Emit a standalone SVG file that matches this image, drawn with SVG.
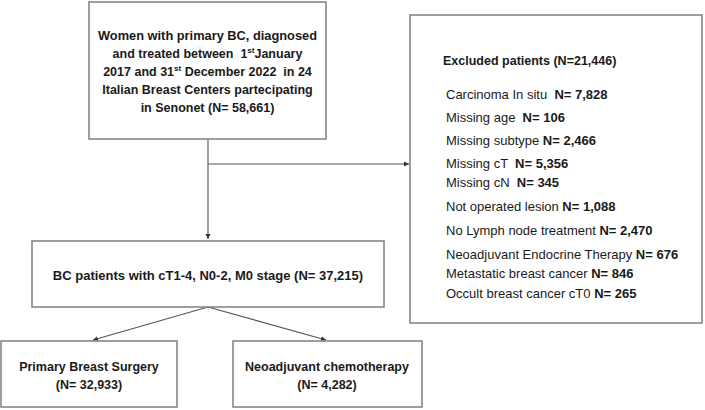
<svg xmlns="http://www.w3.org/2000/svg" width="705" height="410" viewBox="0 0 705 410">
<defs>
<marker id="ah" markerWidth="6" markerHeight="6" refX="5" refY="3" orient="auto" markerUnits="userSpaceOnUse">
<path d="M0,0.5 L5,3 L0,5.5 Z" fill="#333"/>
</marker>
<style>
.box{fill:#fff;stroke:#7f7f7f;stroke-width:1.5}
.t{font-family:"Liberation Sans",Arial,sans-serif;font-size:12.5px;fill:#1a1a1a;white-space:pre}
.m{font-size:13px}
.b{font-weight:bold}
.c{text-anchor:middle}
.ln{fill:none;stroke:#555;stroke-width:1.1}
.sup{font-size:8px}
</style>
</defs>
<rect width="705" height="410" fill="#fff"/>
<g id="connectors">
<path class="ln" d="M208,139 V239" marker-end="url(#ah)"/>
<path class="ln" d="M208,164 H409" marker-end="url(#ah)"/>
<path class="ln" d="M208,307 L93,340" marker-end="url(#ah)"/>
<path class="ln" d="M208,307 L326,340" marker-end="url(#ah)"/>
</g>
<g id="node-women">
<rect class="box" x="89" y="2" width="237" height="137"/>
<text class="t b c" x="207.5" y="40" textLength="219" lengthAdjust="spacingAndGlyphs">Women with primary BC, diagnosed</text>
<text class="t b c" x="207.5" y="58" xml:space="preserve">and treated between  1<tspan class="sup" dy="-5">st</tspan><tspan dy="5">January</tspan></text>
<text class="t b c" x="207.5" y="76" xml:space="preserve">2017 and 31<tspan class="sup" dy="-5">st</tspan><tspan dy="5"> December 2022  in 24</tspan></text>
<text class="t b c" x="207.5" y="94">Italian Breast Centers partecipating</text>
<text class="t b c" x="207.5" y="112">in Senonet (N= 58,661)</text>
</g>
<g id="node-excluded">
<rect class="box" x="410" y="15" width="292" height="308"/>
<text class="t b" x="443" y="65">Excluded patients (N=21,446)</text>
<text class="t m" x="446" y="99" xml:space="preserve">Carcinoma In situ  <tspan class="b">N= 7,828</tspan></text>
<text class="t m" x="446" y="122" xml:space="preserve">Missing age  <tspan class="b">N= 106</tspan></text>
<text class="t m" x="446" y="145" xml:space="preserve">Missing subtype <tspan class="b">N= 2,466</tspan></text>
<text class="t m" x="446" y="168" xml:space="preserve">Missing cT  <tspan class="b">N= 5,356</tspan></text>
<text class="t m" x="446" y="187" xml:space="preserve">Missing cN  <tspan class="b">N= 345</tspan></text>
<text class="t m" x="446" y="211" xml:space="preserve">Not operated lesion <tspan class="b">N= 1,088</tspan></text>
<text class="t m" x="446" y="235" xml:space="preserve">No Lymph node treatment <tspan class="b">N= 2,470</tspan></text>
<text class="t m" x="446" y="259" xml:space="preserve">Neoadjuvant Endocrine Therapy <tspan class="b">N= 676</tspan></text>
<text class="t m" x="446" y="278" xml:space="preserve">Metastatic breast cancer <tspan class="b">N= 846</tspan></text>
<text class="t m" x="446" y="298" xml:space="preserve">Occult breast cancer cT0 <tspan class="b">N= 265</tspan></text>
</g>
<g id="node-stage">
<rect class="box" x="32" y="241" width="352" height="66"/>
<text class="t m b c" x="208" y="280">BC patients with cT1-4, N0-2, M0 stage (N= 37,215)</text>
</g>
<g id="node-surgery">
<rect class="box" x="1" y="341" width="176" height="66"/>
<text class="t b c" x="89" y="371">Primary Breast Surgery</text>
<text class="t b c" x="89" y="389">(N= 32,933)</text>
</g>
<g id="node-chemo">
<rect class="box" x="233" y="341" width="189" height="66"/>
<text class="t b c" x="327" y="371">Neoadjuvant chemotherapy</text>
<text class="t b c" x="327" y="389">(N= 4,282)</text>
</g>
</svg>
